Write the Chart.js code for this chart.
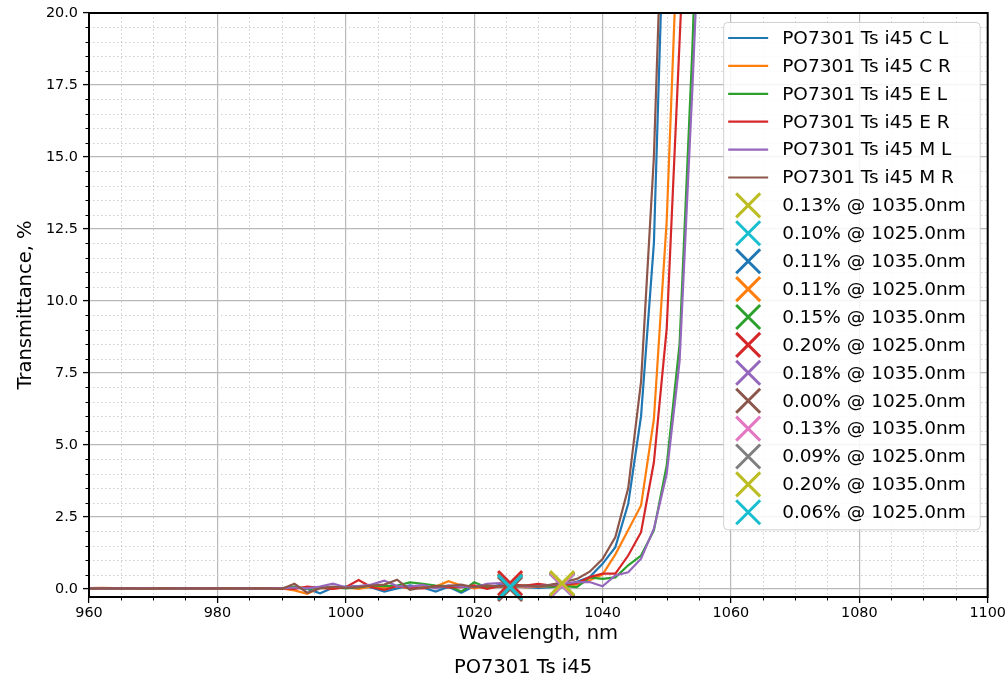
<!doctype html>
<html lang="en">
  <head>
    <meta charset="UTF-8" />
    <title>PO7301 Ts i45</title>
    <script src="https://cdn.jsdelivr.net/npm/chart.js"></script>
    <style>
      html, body { margin: 0; padding: 0; background: #fff; }
      #wrap { width: 1008px; height: 681px; }
    </style>
  </head>
  <body>
    <div id="wrap"><canvas id="chart"></canvas></div>
    <script>
      // wavelength grid, nm
      var wavelengths = [
        960, 962, 964, 966, 968, 970, 972, 974, 976, 978, 980, 982, 984, 986, 988,
        990, 992, 994, 996, 998, 1000, 1002, 1004, 1006, 1008, 1010, 1012, 1014,
        1016, 1018, 1020, 1022, 1024, 1026, 1028, 1030, 1032, 1034, 1036, 1038,
        1040, 1042, 1044, 1046, 1048, 1050, 1052, 1054, 1056, 1058,
      ];

      // transmittance, %
      var ts_C_L = [
        0.02, 0.03, 0.02, 0.02, 0.01, 0.02, 0.03, 0.02, 0.02, 0.01, 0.02, 0.02, 0.03, 0.02, 0.02,
        0.03, 0.05, 0.0, -0.15, 0.04, 0.08, 0.1, 0.05, -0.09, 0.02, 0.12, 0.05, -0.09, 0.08, -0.13,
        0.1, 0.04, 0.14, 0.1, 0.06, 0.04, 0.06, 0.14,
        0.25, 0.41, 0.87, 1.45, 2.96, 6.0, 12.0, 26.8, 45, 60, 70, 75,
      ];
      var ts_C_R = [
        0.03, 0.04, 0.03, 0.02, 0.03, 0.02, 0.02, 0.03, 0.02, 0.02, 0.02, 0.03, 0.02, 0.02, 0.03,
        0.02, -0.05, -0.17, 0.05, 0.02, 0.05, 0.0, 0.08, 0.04, 0.1, 0.02, 0.06, 0.08, 0.27, 0.12,
        0.02, 0.1, 0.08, 0.12, 0.05, 0.08, 0.1, 0.12,
        0.15, 0.3, 0.5, 1.2, 2.05, 2.9, 5.9, 12.8, 24.5, 40, 55, 65,
      ];
      var ts_E_L = [
        0.02, 0.02, 0.02, 0.03, 0.02, 0.02, 0.02, 0.02, 0.03, 0.02, 0.02, 0.02, 0.02, 0.02, 0.02,
        0.02, 0.08, 0.0, 0.04, 0.06, 0.02, 0.05, 0.12, 0.1, 0.12, 0.23, 0.18, 0.12, 0.1, -0.09,
        0.23, 0.05, 0.1, 0.08, 0.12, 0.14, 0.08, 0.1,
        0.06, 0.4, 0.35, 0.4, 0.82, 1.16, 2.03, 4.3, 8.5, 18.8, 32, 48,
      ];
      var ts_E_R = [
        0.02, 0.02, 0.03, 0.02, 0.02, 0.03, 0.02, 0.02, 0.02, 0.02, 0.03, 0.02, 0.02, 0.02, 0.02,
        0.02, 0.0, 0.08, 0.04, 0.0, 0.06, 0.31, 0.06, -0.03, 0.1, 0.04, 0.02, 0.1, 0.05, 0.06,
        0.12, 0.0, 0.1, 0.15, 0.12, 0.18, 0.12, 0.14,
        0.2, 0.41, 0.53, 0.53, 1.16, 1.97, 4.4, 9.05, 19, 29, 45, 60,
      ];
      var ts_M_L = [
        0.03, 0.02, 0.02, 0.02, 0.03, 0.03, 0.02, 0.03, 0.02, 0.02, 0.02, 0.02, 0.03, 0.02, 0.02,
        0.02, 0.05, 0.02, 0.08, 0.18, 0.06, 0.1, 0.15, 0.29, 0.1, 0.08, 0.14, 0.02, 0.12, 0.08,
        0.06, 0.18, 0.2, 0.12, 0.08, 0.1, 0.14, 0.18,
        0.24, 0.24, 0.09, 0.47, 0.58, 1.05, 2.09, 4.0, 7.9, 17.4, 28, 45,
      ];
      var ts_M_R = [
        0.02, 0.02, 0.02, 0.02, 0.02, 0.02, 0.03, 0.02, 0.02, 0.02, 0.02, 0.03, 0.02, 0.03, 0.02,
        0.0, 0.18, -0.13, 0.02, 0.08, 0.04, 0.06, 0.12, 0.15, 0.32, -0.03, 0.05, 0.08, 0.1, 0.15,
        0.06, 0.12, 0.08, 0.1, 0.12, 0.08, 0.15, 0.24,
        0.35, 0.6, 1.04, 1.8, 3.5, 7.2, 15, 28.5, 45, 60, 70, 75,
      ];

      var seriesNames = [
        "PO7301 Ts i45 C L", "PO7301 Ts i45 C R", "PO7301 Ts i45 E L",
        "PO7301 Ts i45 E R", "PO7301 Ts i45 M L", "PO7301 Ts i45 M R",
      ];
      var seriesValues = [ts_C_L, ts_C_R, ts_E_L, ts_E_R, ts_M_L, ts_M_R];
      var lineColors = ["#1f77b4", "#ff7f0e", "#2ca02c", "#d62728", "#9467bd", "#8c564b"];

      // marked points
      var markerLabels = [
        "0.13% @ 1035.0nm", "0.10% @ 1025.0nm", "0.11% @ 1035.0nm", "0.11% @ 1025.0nm",
        "0.15% @ 1035.0nm", "0.20% @ 1025.0nm", "0.18% @ 1035.0nm", "0.00% @ 1025.0nm",
        "0.13% @ 1035.0nm", "0.09% @ 1025.0nm", "0.20% @ 1035.0nm", "0.06% @ 1025.0nm",
      ];
      var markerX = [1033.7, 1025.6, 1033.7, 1025.6, 1033.7, 1025.6, 1033.7, 1025.6, 1033.7, 1025.6, 1033.7, 1025.6];
      var markerY = [0.13, 0.10, 0.11, 0.11, 0.15, 0.20, 0.18, 0.00, 0.13, 0.09, 0.20, 0.06];
      var markerColors = [
        "#bcbd22", "#17becf", "#1f77b4", "#ff7f0e", "#2ca02c", "#d62728",
        "#9467bd", "#8c564b", "#e377c2", "#7f7f7f", "#bcbd22", "#17becf",
      ];

      var FONT = "'DejaVu Sans', sans-serif";
      var figTitle = "PO7301 Ts i45";

      var datasets = [];
      seriesValues.forEach(function (vals, i) {
        datasets.push({
          label: seriesNames[i],
          data: wavelengths.map(function (w, k) { return { x: w, y: vals[k] }; }),
          showLine: true,
          borderColor: lineColors[i],
          backgroundColor: lineColors[i],
          borderWidth: 2.2,
          pointRadius: 0,
          tension: 0,
          order: 100 - datasets.length,
        });
      });
      markerLabels.forEach(function (lab, i) {
        datasets.push({
          label: lab,
          data: [{ x: markerX[i], y: markerY[i] }],
          showLine: false,
          pointStyle: "crossRot",
          pointRadius: 17,
          pointBorderWidth: 3,
          borderColor: markerColors[i],
          backgroundColor: markerColors[i],
          clip: false,
          isMarker: true,
          order: 100 - datasets.length,
        });
      });

      function minorValues(lo, hi, step, major) {
        var out = [];
        for (var v = lo; v <= hi + 1e-9; v += step) {
          var r = Math.round(v * 1000) / 1000;
          if (Math.abs(r / major - Math.round(r / major)) > 1e-6) out.push(r);
        }
        return out;
      }

      // minor grid, spines, minor ticks, in-axes legend and figure title
      var framePlugin = {
        id: "frame",
        beforeDatasetsDraw: function (chart) {
          var ctx = chart.ctx, a = chart.chartArea;
          var xs = chart.scales.x, ys = chart.scales.y;
          ctx.save();
          ctx.strokeStyle = "#cfcfcf";
          ctx.lineWidth = 1;
          ctx.setLineDash([1.5, 2.5]);
          minorValues(960, 1100, 5, 20).forEach(function (v) {
            var px = Math.round(xs.getPixelForValue(v)) + 0.5;
            ctx.beginPath(); ctx.moveTo(px, a.top); ctx.lineTo(px, a.bottom); ctx.stroke();
          });
          minorValues(0, 20, 0.5, 2.5).forEach(function (v) {
            var py = Math.round(ys.getPixelForValue(v)) + 0.5;
            ctx.beginPath(); ctx.moveTo(a.left, py); ctx.lineTo(a.right, py); ctx.stroke();
          });
          ctx.restore();
        },
        afterDatasetsDraw: function (chart) {
          var ctx = chart.ctx, a = chart.chartArea;
          var xs = chart.scales.x, ys = chart.scales.y;
          ctx.save();
          // minor ticks
          ctx.strokeStyle = "#000";
          ctx.lineWidth = 1;
          minorValues(960, 1100, 5, 20).forEach(function (v) {
            var px = Math.round(xs.getPixelForValue(v)) + 0.5;
            ctx.beginPath(); ctx.moveTo(px, a.bottom); ctx.lineTo(px, a.bottom + 3.5); ctx.stroke();
          });
          minorValues(0, 20, 0.5, 2.5).forEach(function (v) {
            var py = Math.round(ys.getPixelForValue(v)) + 0.5;
            ctx.beginPath(); ctx.moveTo(a.left, py); ctx.lineTo(a.left - 3.5, py); ctx.stroke();
          });
          // spines
          ctx.lineWidth = 2;
          ctx.strokeRect(a.left, a.top, a.right - a.left, a.bottom - a.top);

          // legend
          var fs = 18.5, rowH = 27.9;
          var items = chart.data.datasets;
          ctx.font = fs + "px " + FONT;
          var maxW = 0;
          items.forEach(function (d) { maxW = Math.max(maxW, ctx.measureText(d.label).width); });
          var right = a.right - 8, top = a.top + 9;
          var w = 5 + 40 + 14 + maxW + 14;
          var left = right - w;
          var h = 16 + rowH * (items.length - 1) + 17;
          ctx.fillStyle = "rgba(255,255,255,0.85)";
          ctx.strokeStyle = "#d0d0d0";
          ctx.lineWidth = 1;
          ctx.beginPath();
          ctx.roundRect(left + 0.5, top + 0.5, w, h, 4);
          ctx.fill();
          ctx.stroke();
          ctx.textBaseline = "middle";
          ctx.textAlign = "left";
          items.forEach(function (d, i) {
            var cy = top + 16 + rowH * i;
            var hx0 = left + 5, hx1 = left + 45;
            ctx.strokeStyle = d.borderColor;
            if (d.isMarker) {
              var cx = (hx0 + hx1) / 2, s = 12;
              ctx.lineWidth = 3;
              ctx.beginPath();
              ctx.moveTo(cx - s, cy - s); ctx.lineTo(cx + s, cy + s);
              ctx.moveTo(cx + s, cy - s); ctx.lineTo(cx - s, cy + s);
              ctx.stroke();
            } else {
              ctx.lineWidth = 2.2;
              ctx.beginPath(); ctx.moveTo(hx0, cy); ctx.lineTo(hx1, cy); ctx.stroke();
            }
            ctx.fillStyle = "#000";
            ctx.fillText(d.label, hx1 + 14, cy + 1);
          });

          // figure title, below the x label
          ctx.font = "19.5px " + FONT;
          ctx.textAlign = "center";
          ctx.fillText(figTitle, 523, chart.height - 13);
          ctx.restore();
        },
      };

      var ctx = document.getElementById("chart").getContext("2d");
      var chart = new Chart(ctx, {
        type: "scatter",
        data: { datasets: datasets },
        plugins: [framePlugin],
        options: {
          responsive: true,
          maintainAspectRatio: false,
          animation: false,
          devicePixelRatio: 1,
          layout: {
            autoPadding: false,
            padding: { top: 13, right: 20, left: 0, bottom: 25 },
          },
          plugins: {
            legend: { display: false },
            tooltip: { enabled: false },
            title: { display: false },
          },
          scales: {
            x: {
              type: "linear",
              min: 960,
              max: 1100,
              afterFit: function (s) { s.height = 59; },
              ticks: {
                stepSize: 20,
                color: "#000",
                padding: 2,
                maxRotation: 0,
                font: { family: FONT, size: 14.4 },
                callback: function (v) { return String(v); },
              },
              grid: { color: "#b8b8b8", lineWidth: 1.2, tickColor: "#000", tickLength: 6, tickWidth: 1.3 },
              border: { display: false },
              title: {
                display: true,
                text: "Wavelength, nm",
                color: "#000",
                font: { family: FONT, size: 19.5 },
                padding: { top: 0, bottom: 10 },
              },
            },
            y: {
              type: "linear",
              min: -0.28,
              max: 20,
              afterFit: function (s) {
                s.width = 89;
                s.paddingTop = 0;
                s.paddingBottom = 0;
              },
              ticks: {
                stepSize: 2.5,
                includeBounds: false,
                color: "#000",
                padding: 5,
                font: { family: FONT, size: 14.4 },
                callback: function (v) { return v.toFixed(1); },
              },
              grid: { color: "#b8b8b8", lineWidth: 1.2, tickColor: "#000", tickLength: 6, tickWidth: 1.3 },
              border: { display: false },
              title: {
                display: true,
                text: "Transmittance, %",
                color: "#000",
                font: { family: FONT, size: 19.5 },
                padding: { top: 14, bottom: 0 },
              },
            },
          },
        },
      });
    </script>
  </body>
</html>
